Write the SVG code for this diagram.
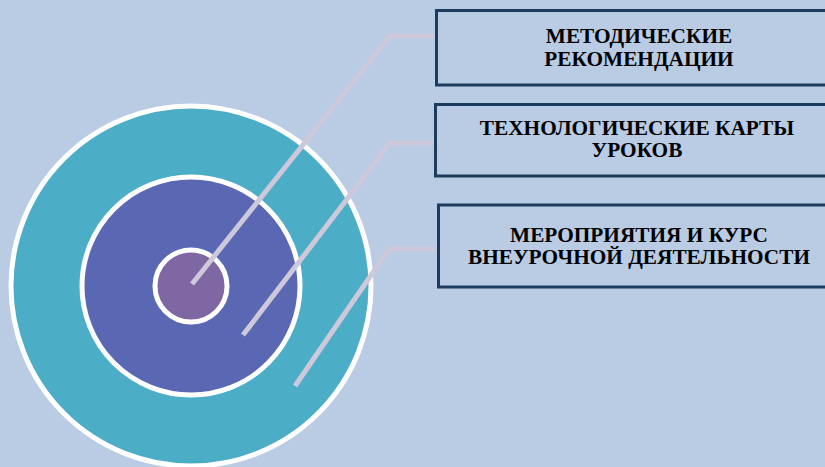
<svg xmlns="http://www.w3.org/2000/svg" width="825" height="467" viewBox="0 0 825 467">
<style>
.ring{stroke:#ffffff;stroke-width:5}
.box{fill:#b9cce4;stroke:#1d3a5f;stroke-width:3}
.t{font-family:"Liberation Serif","Times New Roman",serif;font-weight:bold;font-size:21.3px;fill:#000;text-anchor:middle}
.c{fill:none;stroke:#cdc8da;stroke-width:5;stroke-linejoin:round}
</style>
<rect width="825" height="467" fill="#b9cce4"/>
<g id="target">
<circle class="ring" cx="191" cy="286" r="180" fill="#4badc6"/>
<circle class="ring" cx="191" cy="286" r="109" fill="#5a68b4"/>
<circle class="ring" cx="191" cy="286" r="36" fill="#7f67a3"/>
</g>
<g id="connectors">
<polyline class="c" points="192,284 390,36 435,36"/>
<polyline class="c" points="243,335 390,143 435,143"/>
<polyline class="c" points="295,386 389,249 436,249"/>
</g>
<g id="box1">
<rect class="box" x="436.5" y="10.5" width="400" height="74.5"/>
<text class="t" x="639" y="43">МЕТОДИЧЕСКИЕ</text>
<text class="t" x="639" y="66">РЕКОМЕНДАЦИИ</text>
</g>
<g id="box2">
<rect class="box" x="435.5" y="104.5" width="400" height="71.5"/>
<text class="t" x="637" y="135">ТЕХНОЛОГИЧЕСКИЕ КАРТЫ</text>
<text class="t" x="637" y="157">УРОКОВ</text>
</g>
<g id="box3">
<rect class="box" x="438.5" y="205" width="400" height="82"/>
<text class="t" x="639" y="242">МЕРОПРИЯТИЯ И КУРС</text>
<text class="t" x="639" y="264">ВНЕУРОЧНОЙ ДЕЯТЕЛЬНОСТИ</text>
</g>
</svg>
